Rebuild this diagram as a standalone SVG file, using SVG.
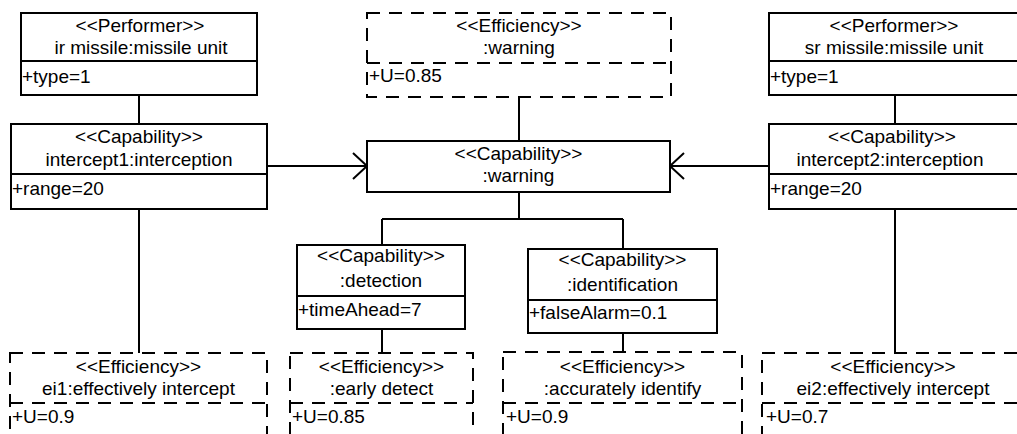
<svg xmlns="http://www.w3.org/2000/svg" width="1017" height="434" viewBox="0 0 1017 434">
<style>
text{font-family:"Liberation Sans",Arial,sans-serif;font-size:19px;fill:#000}
.c{text-anchor:middle}
.box{fill:#fff;stroke:#000;stroke-width:2}
.dash{fill:#fff;stroke:#000;stroke-width:2;stroke-dasharray:13 9}
.dl{stroke:#000;stroke-width:2;stroke-dasharray:13 9;fill:none}
.sl{stroke:#000;stroke-width:2;fill:none}
.conn{stroke:#000;stroke-width:2;fill:none}
</style>
<defs>
<marker id="open" viewBox="-16 -15 18 30" refX="0" refY="0" markerWidth="18" markerHeight="30" markerUnits="userSpaceOnUse" orient="auto">
<path d="M-14,-13 L0,0 L-14,13" fill="none" stroke="#000" stroke-width="2"/>
</marker>
</defs>
<rect width="1017" height="434" fill="#fff"/>
<g id="connectors">
<path class="conn" d="M139,95 V124"/>
<path class="conn" d="M139,209 V353"/>
<path class="conn" d="M895,95 V124"/>
<path class="conn" d="M895,209 V353"/>
<path class="conn" d="M267,166 H367" marker-end="url(#open)"/>
<path class="conn" d="M769,166 H670" marker-end="url(#open)"/>
<path class="conn" d="M519,97 V141"/>
<path class="conn" d="M519,192 V219 M382,219 H623 M382,219 V245 M623,219 V249"/>
<path class="conn" d="M382,329 V353"/>
<path class="conn" d="M623,333 V352"/>
</g>
<g id="ir-missile">
<rect class="box" x="21" y="13" width="236" height="82"/>
<line class="sl" x1="21" y1="61" x2="257" y2="61"/>
<text class="c" x="140" y="32">&lt;&lt;Performer&gt;&gt;</text>
<text class="c" x="141" y="54">ir missile:missile unit</text>
<text x="22" y="83">+type=1</text>
</g>
<g id="intercept1">
<rect class="box" x="11" y="124" width="256" height="85"/>
<line class="sl" x1="11" y1="174" x2="267" y2="174"/>
<text class="c" x="139" y="143">&lt;&lt;Capability&gt;&gt;</text>
<text class="c" x="139" y="166">intercept1:interception</text>
<text x="12" y="195">+range=20</text>
</g>
<g id="sr-missile">
<rect class="box" x="769" y="13" width="252" height="82"/>
<line class="sl" x1="769" y1="61" x2="1021" y2="61"/>
<text class="c" x="894" y="32">&lt;&lt;Performer&gt;&gt;</text>
<text class="c" x="894" y="54">sr missile:missile unit</text>
<text x="770" y="83">+type=1</text>
</g>
<g id="intercept2">
<rect class="box" x="769" y="124" width="252" height="85"/>
<line class="sl" x1="769" y1="174" x2="1021" y2="174"/>
<text class="c" x="892" y="143">&lt;&lt;Capability&gt;&gt;</text>
<text class="c" x="890" y="166">intercept2:interception</text>
<text x="770" y="195">+range=20</text>
</g>
<g id="eff-warning">
<rect class="dash" x="367" y="13" width="304" height="84"/>
<line class="dl" x1="367" y1="63" x2="671" y2="63"/>
<text class="c" x="519" y="32">&lt;&lt;Efficiency&gt;&gt;</text>
<text class="c" x="519" y="54">:warning</text>
<text x="369" y="82">+U=0.85</text>
</g>
<g id="cap-warning">
<rect class="box" x="367" y="141" width="303" height="51"/>
<text class="c" x="518.5" y="160">&lt;&lt;Capability&gt;&gt;</text>
<text class="c" x="518.5" y="182">:warning</text>
</g>
<g id="detection">
<rect class="box" x="297" y="245" width="168" height="84"/>
<line class="sl" x1="297" y1="296" x2="465" y2="296"/>
<text class="c" x="381" y="262">&lt;&lt;Capability&gt;&gt;</text>
<text class="c" x="381" y="287">:detection</text>
<text x="298" y="316">+timeAhead=7</text>
</g>
<g id="identification">
<rect class="box" x="528" y="249" width="189" height="84"/>
<line class="sl" x1="528" y1="300" x2="717" y2="300"/>
<text class="c" x="622.5" y="266">&lt;&lt;Capability&gt;&gt;</text>
<text class="c" x="622.5" y="291">:identification</text>
<text x="529" y="319">+falseAlarm=0.1</text>
</g>
<g id="ei1">
<rect class="dash" x="10" y="353" width="257" height="100"/>
<line class="dl" x1="10" y1="403" x2="267" y2="403"/>
<text class="c" x="138.5" y="373">&lt;&lt;Efficiency&gt;&gt;</text>
<text class="c" x="138.5" y="395">ei1:effectively intercept</text>
<text x="12" y="423">+U=0.9</text>
</g>
<g id="early-detect">
<rect class="dash" x="290" y="353" width="183" height="100"/>
<line class="dl" x1="290" y1="403" x2="473" y2="403"/>
<text class="c" x="381.5" y="373">&lt;&lt;Efficiency&gt;&gt;</text>
<text class="c" x="381.5" y="395">:early detect</text>
<text x="292" y="423">+U=0.85</text>
</g>
<g id="accurately-identify">
<rect class="dash" x="503" y="352" width="239" height="100"/>
<line class="dl" x1="503" y1="403" x2="742" y2="403"/>
<text class="c" x="622.5" y="373">&lt;&lt;Efficiency&gt;&gt;</text>
<text class="c" x="622.5" y="395">:accurately identify</text>
<text x="506" y="423">+U=0.9</text>
</g>
<g id="ei2">
<rect class="dash" x="762" y="353" width="262" height="100"/>
<line class="dl" x1="762" y1="403" x2="1024" y2="403"/>
<text class="c" x="893" y="373">&lt;&lt;Efficiency&gt;&gt;</text>
<text class="c" x="893" y="395">ei2:effectively intercept</text>
<text x="766" y="423">+U=0.7</text>
</g>
</svg>
